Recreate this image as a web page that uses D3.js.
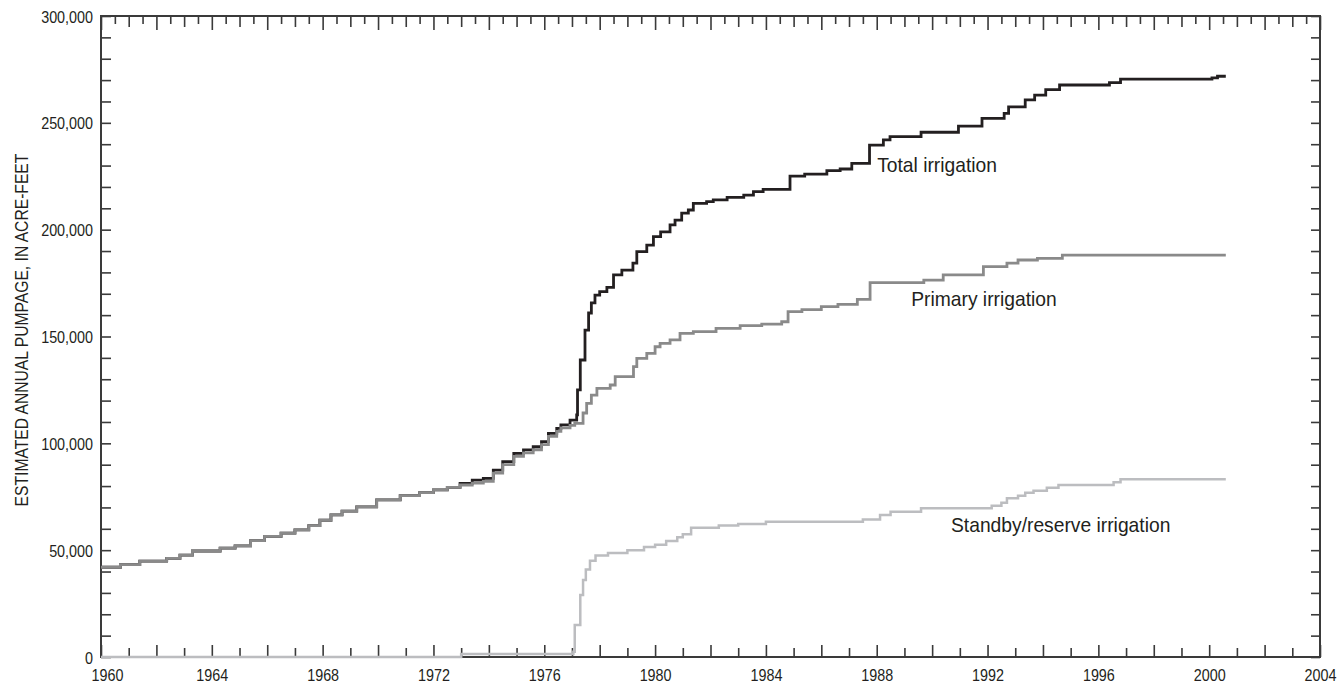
<!DOCTYPE html>
<html>
<head>
<meta charset="utf-8">
<script src="https://cdnjs.cloudflare.com/ajax/libs/d3/7.8.5/d3.min.js"></script>
<style>
  body { margin: 0; background: #fff; }
  svg { display: block; font-family: "Liberation Sans", Arial, sans-serif; }
  .tick text { fill: #231f20; }
</style>
</head>
<body>
<svg width="1344" height="686"></svg>
<script>
// values (year, acre-feet)
var totalYears = [1960, 1960.7, 1961.4, 1962.37, 1962.85, 1963.3, 1964.3, 1964.84, 1965.4, 1965.9, 1966.5, 1967.0, 1967.5, 1967.9,
  1968.3, 1968.7, 1969.23, 1969.95, 1970.8, 1971.5, 1972.0, 1972.5, 1972.96, 1973.4, 1973.8, 1974.16, 1974.5, 1974.9,
  1975.25, 1975.6, 1975.9, 1976.15, 1976.45, 1976.6, 1976.93, 1977.17, 1977.2, 1977.3, 1977.47, 1977.6, 1977.7, 1977.83,
  1978.0, 1978.26, 1978.5, 1978.8, 1979.2, 1979.34, 1979.7, 1979.94, 1980.2, 1980.54, 1980.72, 1980.96, 1981.2, 1981.38,
  1981.86, 1982.1, 1982.6, 1983.2, 1983.55, 1983.9, 1984.87, 1985.4, 1986.2, 1986.68, 1987.1, 1987.74, 1988.24, 1988.48,
  1989.6, 1990.95, 1991.8, 1992.6, 1992.76, 1993.36, 1993.7, 1994.1, 1994.6, 1996.4, 1996.8, 2000.1, 2000.3, 2000.6];
var totalValues = [42000, 43200, 44900, 46200, 47700, 49600, 51000, 52000, 54500, 56500, 58000, 59500, 61500, 64000,
  66500, 68300, 70300, 73500, 75500, 76900, 78200, 79400, 81300, 82800, 83600, 87500, 91400, 95300,
  96900, 98400, 100800, 104700, 107000, 108600, 110900, 113300, 125000, 139000, 153000, 161000, 165700, 169400,
  171000, 173000, 178800, 181100, 184300, 189700, 192800, 196700, 199000, 202200, 204500, 207700, 209200, 212300,
  213100, 213900, 215100, 216200, 217800, 218900, 225100, 226000, 227600, 228400, 231000, 239600, 242000, 243500,
  245600, 248500, 252100, 254400, 257500, 260700, 263000, 265500, 267700, 268800, 270500, 271000, 271800, 271800];

var primaryYears = [1960, 1960.7, 1961.4, 1962.37, 1962.85, 1963.3, 1964.3, 1964.84, 1965.4, 1965.9, 1966.5, 1967.0, 1967.5, 1967.9,
  1968.3, 1968.7, 1969.23, 1969.95, 1970.8, 1971.5, 1972.0, 1972.5, 1972.96, 1973.4, 1973.8, 1974.16, 1974.5, 1974.9,
  1975.25, 1975.6, 1975.9, 1976.15, 1976.45, 1976.6, 1976.93, 1977.1, 1977.4, 1977.53, 1977.7, 1977.9, 1978.38, 1978.56,
  1979.22, 1979.34, 1979.7, 1980.0, 1980.18, 1980.54, 1980.9, 1981.38, 1982.2, 1983.07, 1983.85, 1984.57, 1984.8, 1985.3,
  1986.0, 1986.6, 1987.3, 1987.76, 1989.7, 1990.4, 1991.85, 1992.7, 1993.1, 1993.8, 1994.7, 2000.6];
var primaryValues = [42000, 43200, 44900, 46200, 47700, 49600, 51000, 52000, 54500, 56500, 58000, 59500, 61500, 64000,
  66500, 68300, 70300, 73500, 75500, 76900, 78200, 79400, 80500, 81400, 82200, 86100, 90000, 93900,
  95500, 97000, 99400, 103300, 105600, 107200, 108400, 109300, 114200, 118700, 122600, 125700, 127300, 131200,
  135900, 139800, 142100, 145200, 146800, 148400, 151500, 152300, 153800, 155100, 155800, 156900, 161600, 162600,
  164000, 165000, 167400, 175200, 176400, 178800, 182700, 184300, 185800, 186600, 188100, 188100];

var standbyYears = [1960, 1973.0, 1977.05, 1977.1, 1977.3, 1977.4, 1977.5, 1977.65, 1977.85, 1978.3, 1979.0, 1979.6, 1980.0,
  1980.4, 1980.8, 1981.0, 1981.3, 1982.3, 1983.0, 1984.0, 1987.5, 1988.12, 1988.5, 1989.6, 1992.15, 1992.5, 1992.7,
  1993.1, 1993.36, 1993.66, 1994.14, 1994.56, 1996.3, 1996.55, 1996.8, 2000.6];
var standbyValues = [0, 1400, 2500, 15000, 29000, 36000, 41000, 45000, 47500, 48700, 50000, 51500, 52500,
  54300, 56000, 57500, 60500, 61500, 62200, 63300, 64400, 66500, 68000, 69600, 70800, 72200, 74300,
  75500, 76900, 77800, 79200, 80500, 80500, 81800, 83200, 83200];

var seriesLabels = ["Total irrigation", "Primary irrigation", "Standby/reserve irrigation"];
var yLabelTicks = [0, 50000, 100000, 150000, 200000, 250000, 300000];
var xLabelTicks = [1960, 1964, 1968, 1972, 1976, 1980, 1984, 1988, 1992, 1996, 2000, 2004];

var svg = d3.select("svg");
var plotL = 101, plotR = 1320, plotT = 16, plotB = 657;
var narrow = 0.87; // squeeze Liberation Sans toward the condensed face of the original

var x = d3.scaleLinear().domain([1960, 2004]).range([plotL, plotR]);
var y = d3.scaleLinear().domain([0, 300000]).range([plotB, plotT]);

function zip(xs, ys) { return xs.map(function(d, i) { return [d, ys[i]]; }); }

var line = d3.line()
  .x(function(d) { return x(d[0]); })
  .y(function(d) { return y(d[1]); })
  .curve(d3.curveStepAfter);

var years = d3.range(1960, 2005);
var halfYears = d3.range(1960.5, 2004, 1);
var tenK = d3.range(0, 300001, 10000);

// bottom ticks, pointing inward
svg.append("g").attr("transform", "translate(0," + plotB + ")")
  .call(d3.axisBottom(x).tickValues(years.filter(function(d) { return d % 2; })).tickSize(-9).tickFormat(""));
svg.append("g").attr("class", "xlab").attr("transform", "translate(0," + plotB + ")")
  .call(d3.axisBottom(x).tickValues(years.filter(function(d) { return d % 2 === 0; })).tickSize(-12)
    .tickFormat(function(d) { return xLabelTicks.indexOf(d) >= 0 ? d : ""; }));
svg.selectAll(".xlab text")
  .attr("y", null).attr("dy", null)
  .attr("transform", function(d) { return "translate(" + (d === 1960 ? 6 : 0) + ",24) scale(" + narrow + ",1)"; })
  .style("font-size", "16.5px");

// top ticks
svg.append("g").attr("transform", "translate(0," + plotT + ")")
  .call(d3.axisTop(x).tickValues(halfYears).tickSize(-8).tickFormat(""));
svg.append("g").attr("transform", "translate(0," + plotT + ")")
  .call(d3.axisTop(x).tickValues(years.filter(function(d) { return d % 2; })).tickSize(-11).tickFormat(""));
svg.append("g").attr("transform", "translate(0," + plotT + ")")
  .call(d3.axisTop(x).tickValues(years.filter(function(d) { return d % 2 === 0; })).tickSize(-14).tickFormat(""));

// left and right ticks
svg.append("g").attr("class", "ylab").attr("transform", "translate(" + plotL + ",0)")
  .call(d3.axisLeft(y).tickValues(tenK).tickSize(-10)
    .tickFormat(function(d) { return yLabelTicks.indexOf(d) >= 0 ? d3.format(",")(d) : ""; }));
svg.selectAll(".ylab text")
  .attr("x", null).attr("dy", null)
  .attr("transform", "translate(-8,6) scale(" + narrow + ",1)")
  .style("font-size", "16.5px");
svg.append("g").attr("transform", "translate(" + plotR + ",0)")
  .call(d3.axisRight(y).tickValues(tenK).tickSize(-9).tickFormat(""));

svg.selectAll(".domain").remove();
svg.selectAll(".tick line").attr("stroke", "#3a3a3a").attr("stroke-width", 1.6);

svg.append("rect")
  .attr("x", plotL).attr("y", plotT)
  .attr("width", plotR - plotL).attr("height", plotB - plotT)
  .attr("fill", "none").attr("stroke", "#3a3a3a").attr("stroke-width", 2);

// lines
svg.append("path").datum(zip(totalYears, totalValues))
  .attr("d", line).attr("fill", "none").attr("stroke", "#231f20").attr("stroke-width", 2.8);
svg.append("path").datum(zip(primaryYears, primaryValues))
  .attr("d", line).attr("fill", "none").attr("stroke", "#8a8a8a").attr("stroke-width", 2.8);
svg.append("path").datum(zip(standbyYears, standbyValues))
  .attr("d", line).attr("fill", "none").attr("stroke", "#bcbdc0").attr("stroke-width", 2.5);

// series labels
var labelPos = [[1987.87, 239600, 4, 27], [1989.1, 175200, 4, 23], [1990.5, 69600, 5, 24]];
svg.selectAll(".series-label").data(seriesLabels).enter().append("text")
  .attr("class", "series-label")
  .attr("transform", function(d, i) {
    return "translate(" + (x(labelPos[i][0]) + labelPos[i][2]) + "," + (y(labelPos[i][1]) + labelPos[i][3]) + ") scale(0.94,1)";
  })
  .style("font-size", "20.5px").attr("fill", "#231f20")
  .text(function(d) { return d; });

// y axis title
svg.append("text")
  .attr("transform", "translate(28,330) rotate(-90) scale(" + narrow + ",1)")
  .attr("text-anchor", "middle")
  .style("font-size", "18px").attr("fill", "#231f20")
  .text("ESTIMATED ANNUAL PUMPAGE, IN ACRE-FEET");
</script>
</body>
</html>
